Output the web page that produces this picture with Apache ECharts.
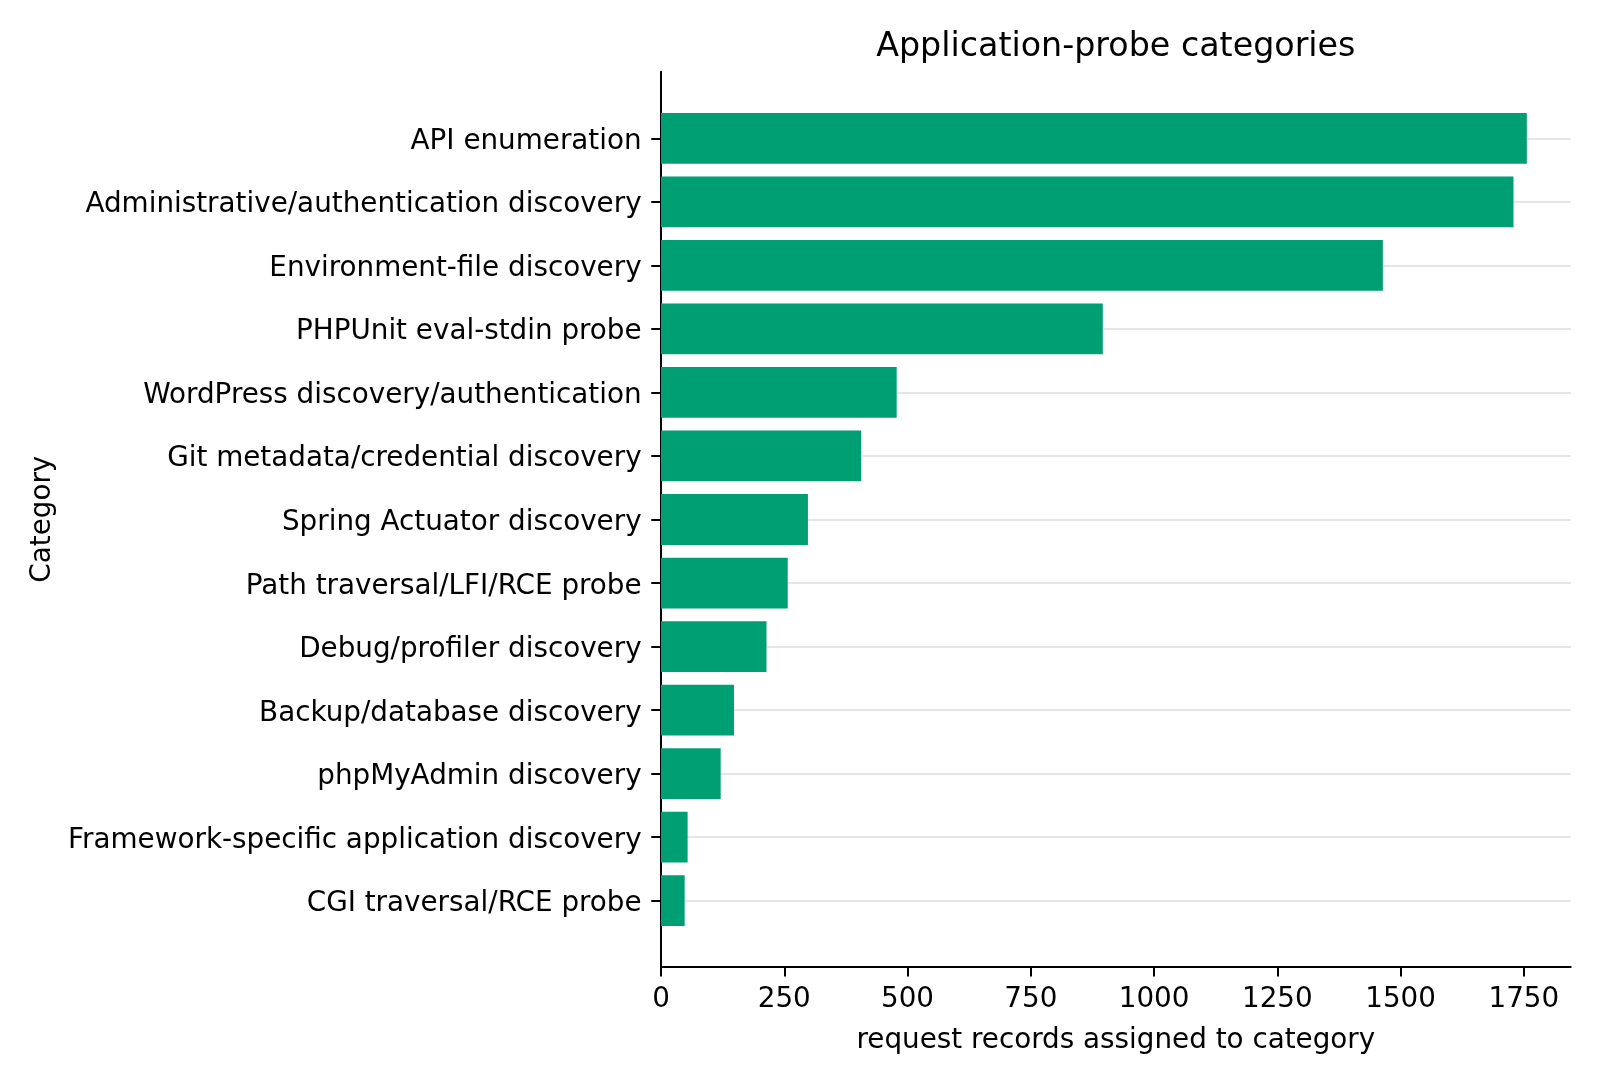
<!DOCTYPE html>
<html>
<head>
<meta charset="utf-8">
<script src="https://cdn.jsdelivr.net/npm/echarts@6/dist/echarts.min.js"></script>
<style>
  html, body { margin: 0; padding: 0; background: #ffffff; }
  #chart { width: 1600px; height: 1084px; }
</style>
</head>
<body>
<div id="chart"></div>
<script>
const categories = [
  'API enumeration',
  'Administrative/authentication discovery',
  'Environment-file discovery',
  'PHPUnit eval-stdin probe',
  'WordPress discovery/authentication',
  'Git metadata/credential discovery',
  'Spring Actuator discovery',
  'Path traversal/LFI/RCE probe',
  'Debug/profiler discovery',
  'Backup/database discovery',
  'phpMyAdmin discovery',
  'Framework-specific application discovery',
  'CGI traversal/RCE probe'
];
const counts = [1756, 1729, 1464, 896, 478, 406, 298, 257, 214, 148, 121, 54, 48];
const xTicks = [0, 250, 500, 750, 1000, 1250, 1500, 1750];
const titleText = 'Application-probe categories';
const xName = 'request records assigned to category';
const yName = 'Category';

const FONT = 'DejaVu Sans';
const X_MAX = 1845;

const chart = echarts.init(document.getElementById('chart'), null, { renderer: 'canvas' });
chart.setOption({
  animation: false,
  backgroundColor: '#ffffff',
  title: {
    text: titleText,
    left: 1115.8,
    top: 31,
    padding: 0,
    textAlign: 'center',
    textStyle: { fontFamily: FONT, fontSize: 33.3, fontWeight: 'normal', color: '#000000', lineHeight: 33.3 }
  },
  grid: [
    // grid 0: holds the bars; spans first to last category centre
    { left: 661, right: 29.3, top: 138.3, bottom: 183.3, containLabel: false },
    // grid 1: the axes frame (spines, x ticks, names)
    { left: 661, right: 29.3, top: 71.7, bottom: 117.3, containLabel: false }
  ],
  xAxis: [
    {
      gridIndex: 0, type: 'value', min: 0, max: X_MAX, show: false,
      splitLine: { show: false }
    },
    {
      gridIndex: 1, type: 'value', min: 0, max: X_MAX,
      name: xName,
      nameLocation: 'middle',
      nameGap: 60.5,
      nameTextStyle: { fontFamily: FONT, fontSize: 27.8, color: '#000000' },
      axisLine: { show: true, lineStyle: { color: '#000000', width: 2 } },
      axisTick: { show: true, inside: false, length: 9.7, lineStyle: { color: '#000000', width: 2 }, customValues: xTicks },
      axisLabel: {
        show: true, margin: 19.5, fontFamily: FONT, fontSize: 27.8, color: '#000000', customValues: xTicks,
        formatter: function (v) { return String(v); }
      },
      splitLine: { show: false }
    }
  ],
  yAxis: [
    {
      gridIndex: 0,
      type: 'category',
      data: categories,
      inverse: true,
      boundaryGap: false,
      axisLine: { show: false },
      axisTick: { show: true, inside: false, length: 9.7, interval: 0, lineStyle: { color: '#000000', width: 2 } },
      axisLabel: {
        show: true, interval: 0, margin: 19.4,
        verticalAlign: 'top', lineHeight: 6.6,
        fontFamily: FONT, fontSize: 27.8, color: '#000000'
      },
      splitLine: { show: true, interval: 0, lineStyle: { color: '#dddddd', width: 1.6 } }
    },
    {
      gridIndex: 1,
      type: 'value',
      min: 0,
      max: 1,
      name: yName,
      nameLocation: 'middle',
      nameGap: 604,
      nameTextStyle: { fontFamily: FONT, fontSize: 27.8, color: '#000000' },
      axisLine: { show: true, lineStyle: { color: '#000000', width: 2 } },
      axisTick: { show: false },
      axisLabel: { show: false },
      splitLine: { show: false }
    }
  ],
  series: [{
    type: 'bar',
    xAxisIndex: 0,
    yAxisIndex: 0,
    data: counts,
    barWidth: 50.8,
    clip: false,
    itemStyle: { color: '#009E73' },
    silent: true
  }]
});
</script>
</body>
</html>
